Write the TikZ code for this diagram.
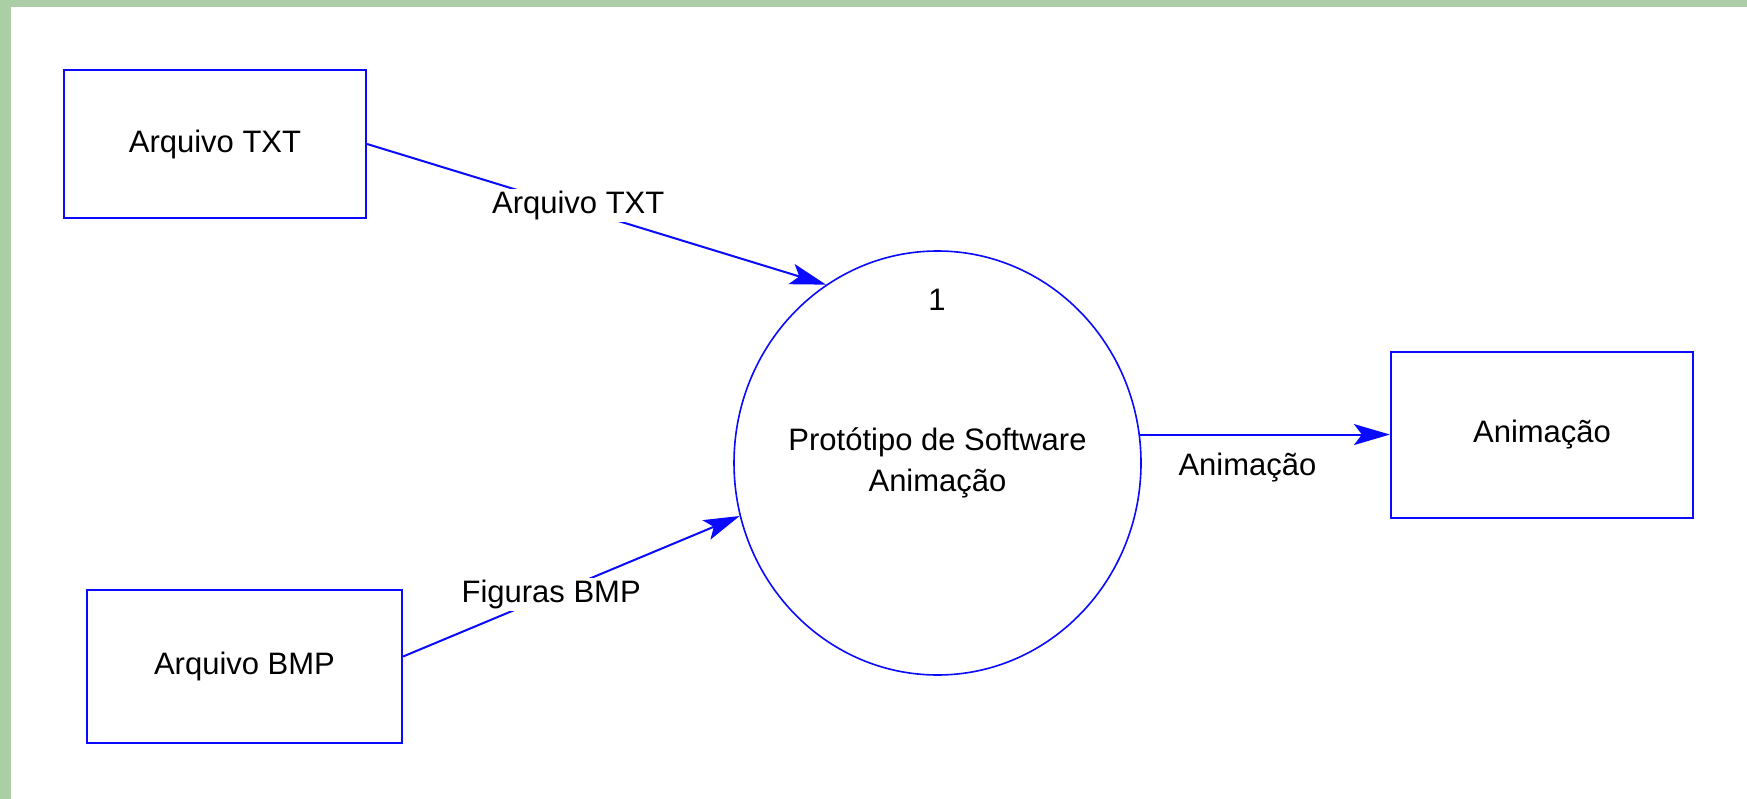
\documentclass[tikz,border=0pt]{standalone}
\usepackage{fontspec}
\setmainfont{Liberation Sans}
\usetikzlibrary{arrows.meta,shapes.geometric}
\definecolor{framegreen}{RGB}{172,206,166}
\definecolor{lineblue}{RGB}{10,10,255}

\begin{document}
\begin{tikzpicture}[x=1pt,y=-1pt,
  every node/.style={font=\fontsize{31}{41}\selectfont, text=black},
  entity/.style={draw=lineblue, line width=2.2pt, rectangle, inner sep=0pt},
  process/.style={draw=lineblue, line width=1.6pt, ellipse, inner sep=0pt,
    minimum width=407pt, minimum height=424pt},
  flow/.style={draw=lineblue, line width=2pt,
    -{Stealth[length=36pt,width=21pt,inset=8pt]}},
  flowlabel/.style={fill=white, inner sep=2pt}]

% page frame: green strip on the left and top, white sheet
\fill[framegreen] (0,0) rectangle (1747,799);
\fill[white] (11,7) rectangle (1747,799);
\useasboundingbox (0,0) rectangle (1747,799);

% external entities
\node[entity, minimum width=302pt, minimum height=148pt] (txt) at (215,144) {Arquivo TXT};
\node[entity, minimum width=315pt, minimum height=153pt] (bmp) at (244.5,666.5) {Arquivo BMP};
\node[entity, minimum width=302pt, minimum height=166pt] (anim) at (1542,435) {Animação};

% process bubble with its number and name
\node[process] (proc) at (937.5,463) {};
\node (pnum) at (937,300) {1};
\node[align=center] (pname) at (proc.center) {Protótipo de Software\\Animação};

% data flows
\draw[flow] (txt.east) -- node[flowlabel, pos=0.46, yshift=3pt] {Arquivo TXT} (proc.122.6);
\draw[flow] ([yshift=10pt]bmp.east) -- node[flowlabel, pos=0.44] {Figuras BMP} (proc.195);
\draw[flow] (proc.8.75) -- node[pos=0.43, yshift=-33pt] {Animação} (proc.8.75 -| anim.west);
\end{tikzpicture}
\end{document}
